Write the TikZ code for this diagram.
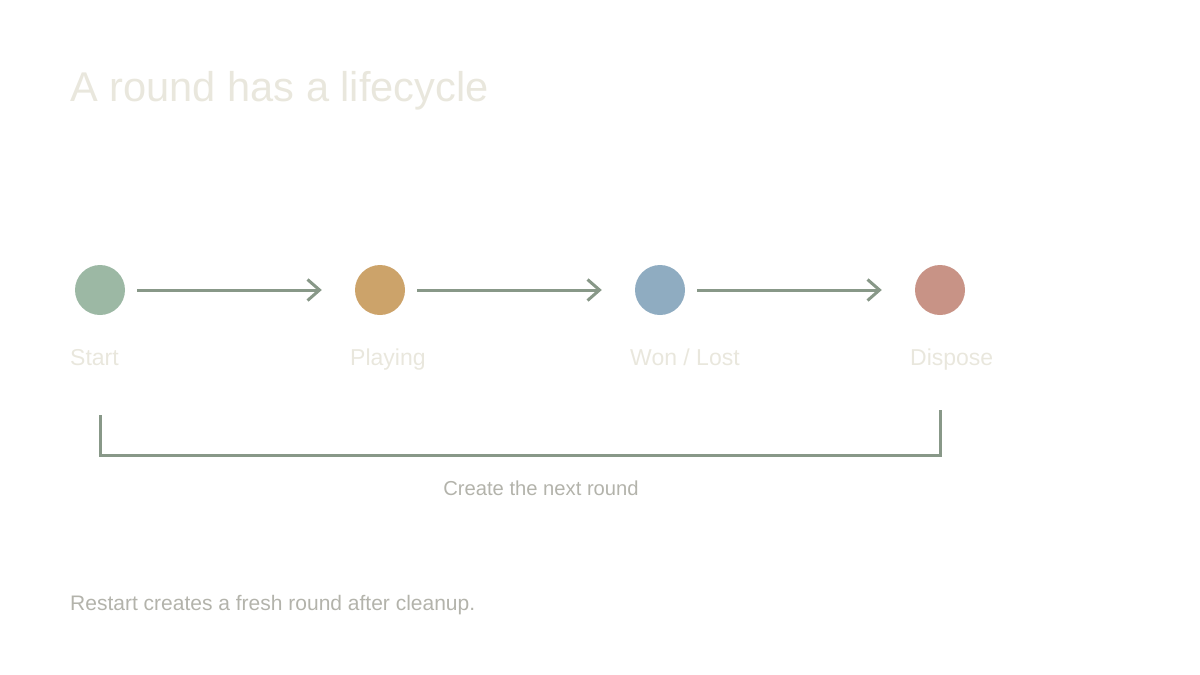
\documentclass[tikz,border=0pt]{standalone}
\usepackage{fontspec}
\setmainfont{Liberation Sans}
\usetikzlibrary{arrows.meta,calc}
\definecolor{linec}{HTML}{889888}
\definecolor{cgreen}{HTML}{9CB8A4}
\definecolor{corange}{HTML}{CCA36A}
\definecolor{cblue}{HTML}{8FACC1}
\definecolor{cred}{HTML}{C89386}
\definecolor{titlec}{HTML}{E9E7DD}
\definecolor{labc}{HTML}{E9E7DD}
\definecolor{notec}{HTML}{B3B3AB}
\begin{document}
\begin{tikzpicture}[x=1pt,y=-1pt,
  state/.style={circle,minimum size=50pt,inner sep=0pt},
  lab/.style={anchor=base west,inner sep=0pt,text=labc,font=\fontsize{23}{26}\selectfont},
  flow/.style={draw=linec,line width=3pt,shorten <=12pt,shorten >=33pt,-{Straight Barb[length=12pt,width=21pt,line width=3pt]}},
  bracket/.style={draw=linec,line width=3pt},
  note/.style={inner sep=0pt,text=notec,font=\fontsize{20.2}{24}\selectfont}]
\useasboundingbox (0,0) rectangle (1200,675);
\node[anchor=base west,inner sep=0pt,text=titlec,font=\fontsize{41.6}{48}\selectfont] (title) at (70,101) {A round has a lifecycle};
\node[state,fill=cgreen] (s) at (100,290) {};
\node[state,fill=corange] (p) at (380,290) {};
\node[state,fill=cblue] (w) at (660,290) {};
\node[state,fill=cred] (d) at (940,290) {};
\draw[flow] (s.east) -- (p.west);
\draw[flow] (p.east) -- (w.west);
\draw[flow] (w.east) -- (d.west);
\node[lab] (ls) at (70,365) {Start};
\node[lab] (lp) at (350,365) {Playing};
\node[lab] (lw) at (630,365) {Won / Lost};
\node[lab] (ld) at (910,365) {Dispose};
\coordinate (b1) at ($(s)+(0,125)$);
\coordinate (b2) at ($(d)+(0,120)$);
\draw[bracket] (b1) |- (940,455) -- (b2);
\node[note,anchor=base] (next) at (541,495) {Create the next round};
\node[note,anchor=base west,font=\fontsize{21}{24}\selectfont] (foot) at (70,610) {Restart creates a fresh round after cleanup.};
\end{tikzpicture}
\end{document}
